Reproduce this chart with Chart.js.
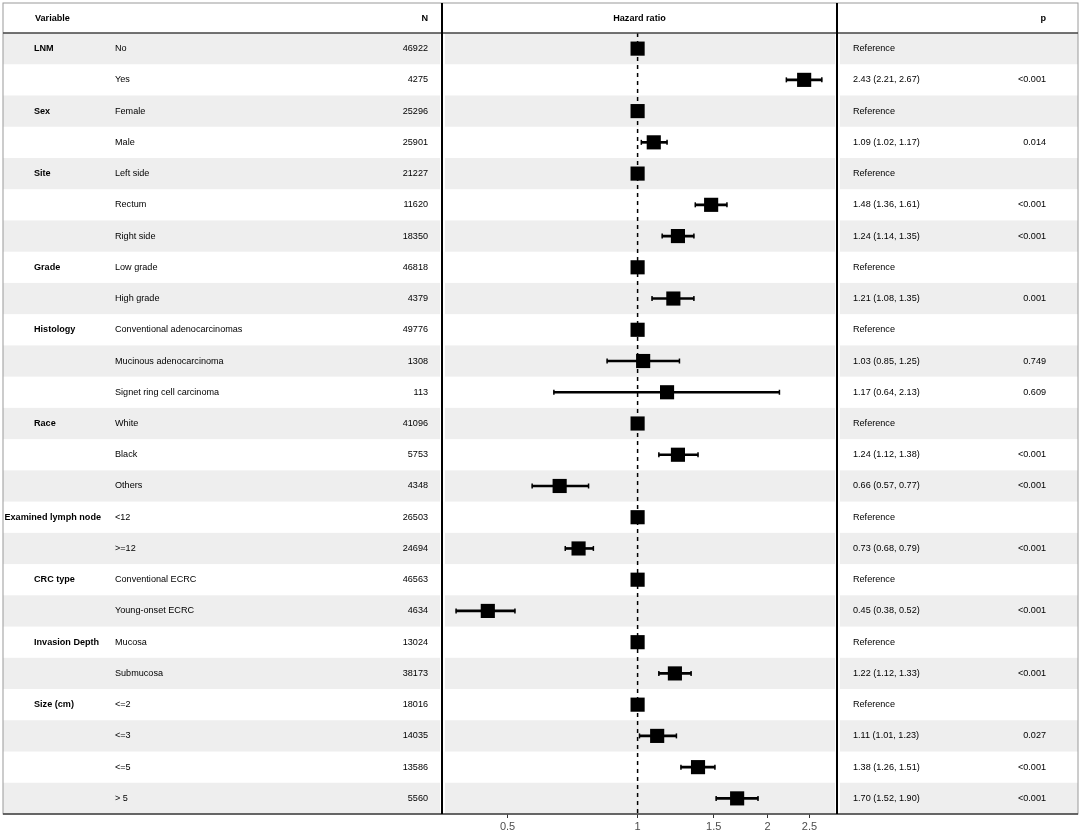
<!DOCTYPE html>
<html>
<head>
<meta charset="utf-8">
<title>Hazard ratio forest plot</title>
<script src="https://cdn.jsdelivr.net/npm/chart.js@4.4.1/dist/chart.umd.min.js"></script>
<style>
  html, body { margin: 0; padding: 0; background: #fff; }
  canvas { display: block; }
</style>
</head>
<body>
<canvas id="forestChart" width="1081" height="834"></canvas>
<script>
const variables = ['LNM', '', 'Sex', '', 'Site', '', '', 'Grade', '', 'Histology', '', '', 'Race', '', '',
  'Examined lymph node', '', 'CRC type', '', 'Invasion Depth', '', 'Size (cm)', '', '', ''];
const levels = ['No', 'Yes', 'Female', 'Male', 'Left side', 'Rectum', 'Right side', 'Low grade', 'High grade',
  'Conventional adenocarcinomas', 'Mucinous adenocarcinoma', 'Signet ring cell carcinoma', 'White', 'Black',
  'Others', '<12', '>=12', 'Conventional ECRC', 'Young-onset ECRC', 'Mucosa', 'Submucosa', '<=2', '<=3', '<=5', '> 5'];
const counts = [46922, 4275, 25296, 25901, 21227, 11620, 18350, 46818, 4379, 49776, 1308, 113, 41096, 5753,
  4348, 26503, 24694, 46563, 4634, 13024, 38173, 18016, 14035, 13586, 5560];
const hazardRatios = [1, 2.43, 1, 1.09, 1, 1.48, 1.24, 1, 1.21, 1, 1.03, 1.17, 1, 1.24, 0.66, 1, 0.73, 1, 0.45,
  1, 1.22, 1, 1.11, 1.38, 1.70];
const lowerCI = [null, 2.21, null, 1.02, null, 1.36, 1.14, null, 1.08, null, 0.85, 0.64, null, 1.12, 0.57, null,
  0.68, null, 0.38, null, 1.12, null, 1.01, 1.26, 1.52];
const upperCI = [null, 2.67, null, 1.17, null, 1.61, 1.35, null, 1.35, null, 1.25, 2.13, null, 1.38, 0.77, null,
  0.79, null, 0.52, null, 1.33, null, 1.23, 1.51, 1.90];
const pValues = ['', '<0.001', '', '0.014', '', '<0.001', '<0.001', '', '0.001', '', '0.749', '0.609', '',
  '<0.001', '<0.001', '', '<0.001', '', '<0.001', '', '<0.001', '', '0.027', '<0.001', '<0.001'];
const tickValues = [0.5, 1, 1.5, 2, 2.5];
const refValue = 1;

const fontFamily = '"Liberation Sans", Arial, Helvetica, sans-serif';
const bandColor = '#eeeeee';
const rowCount = levels.length;

function hrLabel(i) {
  if (lowerCI[i] === null) return 'Reference';
  return `${hazardRatios[i].toFixed(2)} (${lowerCI[i].toFixed(2)}, ${upperCI[i].toFixed(2)})`;
}

// table panels, row bands and text around the plot area
const tablePlugin = {
  id: 'forestTable',
  beforeDraw(chart) {
    const { ctx, chartArea, scales } = chart;
    const yScale = scales.y;
    ctx.save();
    ctx.fillStyle = '#fff';
    ctx.fillRect(0, 0, chart.width, chart.height);
    ctx.fillStyle = bandColor;
    for (let i = 0; i < rowCount; i += 2) {
      const top = yScale.getPixelForValue(i - 0.5);
      const bottom = yScale.getPixelForValue(i + 0.5);
      ctx.fillRect(3, top, chartArea.left - 5, bottom - top);
      ctx.fillRect(chartArea.left + 3, top, chartArea.right - chartArea.left - 5, bottom - top);
      ctx.fillRect(chartArea.right + 3, top, chart.width - 3 - chartArea.right - 3, bottom - top);
    }
    ctx.restore();
  },
  afterDraw(chart) {
    const { ctx, chartArea, scales } = chart;
    const yScale = scales.y;
    const headerY = chartArea.top / 2 + 1.5;
    ctx.save();
    ctx.fillStyle = '#000';
    ctx.textBaseline = 'middle';

    ctx.font = `bold 9.1px ${fontFamily}`;
    ctx.textAlign = 'left';
    ctx.fillText('Variable', 35, headerY);
    ctx.textAlign = 'right';
    ctx.fillText('N', 428, headerY);
    ctx.fillText('p', 1046, headerY);
    ctx.textAlign = 'center';
    ctx.fillText('Hazard ratio', (chartArea.left + chartArea.right) / 2, headerY);

    for (let i = 0; i < rowCount; i++) {
      const y = yScale.getPixelForValue(i);
      if (variables[i]) {
        ctx.font = `bold 9.1px ${fontFamily}`;
        ctx.textAlign = 'left';
        const w = ctx.measureText(variables[i]).width;
        ctx.fillText(variables[i], Math.min(34, 101 - w), y);
      }
      ctx.font = `9.1px ${fontFamily}`;
      ctx.textAlign = 'left';
      ctx.fillText(levels[i], 115, y);
      ctx.fillText(hrLabel(i), 853, y);
      ctx.textAlign = 'right';
      ctx.fillText(String(counts[i]), 428, y);
      ctx.fillText(pValues[i], 1046, y);
    }

    // outer frame, header rule, bottom rule, panel dividers
    ctx.strokeStyle = '#9a9a9a';
    ctx.lineWidth = 1;
    ctx.strokeRect(3, 3, chart.width - 6, chartArea.bottom - 3);
    ctx.strokeStyle = '#444';
    ctx.lineWidth = 1.5;
    ctx.beginPath();
    ctx.moveTo(3, chartArea.top);
    ctx.lineTo(chart.width - 3, chartArea.top);
    ctx.moveTo(3, chartArea.bottom);
    ctx.lineTo(chart.width - 3, chartArea.bottom);
    ctx.stroke();
    ctx.strokeStyle = '#000';
    ctx.lineWidth = 2;
    ctx.beginPath();
    ctx.moveTo(chartArea.left, 3);
    ctx.lineTo(chartArea.left, chartArea.bottom);
    ctx.moveTo(chartArea.right, 3);
    ctx.lineTo(chartArea.right, chartArea.bottom);
    ctx.stroke();
    ctx.restore();
  },
};

const rows = levels.map((_, i) => i);
const ciRows = rows.filter((i) => lowerCI[i] !== null);

const squares = rows.map((i) => ({ x: hazardRatios[i], y: i }));
const ciBars = ciRows.map((i) => ({ x: [lowerCI[i], upperCI[i]], y: i }));
const ciCaps = ciRows.flatMap((i) => [{ x: lowerCI[i], y: i }, { x: upperCI[i], y: i }]);

const ctx = document.getElementById('forestChart').getContext('2d');

new Chart(ctx, {
  type: 'bar',
  data: {
    datasets: [
      {
        type: 'scatter',
        data: squares,
        pointStyle: 'rect',
        pointRadius: 10,
        backgroundColor: '#000',
        borderColor: '#000',
        borderWidth: 0,
        order: 0,
      },
      {
        type: 'bar',
        indexAxis: 'y',
        data: ciBars,
        backgroundColor: '#000',
        borderWidth: 0,
        barThickness: 2,
        grouped: false,
        order: 1,
      },
      {
        type: 'scatter',
        data: ciCaps,
        pointStyle: 'line',
        rotation: 90,
        pointRadius: 2.5,
        borderColor: '#000',
        borderWidth: 1.5,
        order: 1,
      },
      {
        type: 'scatter',
        data: [{ x: refValue, y: -0.5 }, { x: refValue, y: rowCount - 0.5 }],
        showLine: true,
        pointRadius: 0,
        borderColor: '#000',
        borderWidth: 1.5,
        borderDash: [4, 4],
        order: 2,
      },
    ],
  },
  options: {
    indexAxis: 'y',
    responsive: false,
    animation: false,
    layout: {
      padding: { left: 442, right: 244, top: 33, bottom: 0 },
    },
    plugins: {
      legend: { display: false },
      tooltip: { enabled: false },
    },
    scales: {
      x: {
        type: 'logarithmic',
        min: 0.3525,
        max: 2.895,
        offset: false,
        afterBuildTicks: (scale) => {
          scale.ticks = tickValues.map((v) => ({ value: v }));
        },
        afterFit: (scale) => {
          scale.height = 20;
        },
        border: { display: false },
        grid: {
          offset: false,
          drawOnChartArea: false,
          drawTicks: true,
          tickLength: 4,
          tickColor: '#333',
        },
        ticks: {
          autoSkip: false,
          maxRotation: 0,
          padding: 2,
          color: '#4d4d4d',
          font: { family: fontFamily, size: 11 },
          callback: (value) => String(value),
        },
      },
      y: {
        type: 'linear',
        display: false,
        reverse: true,
        offset: false,
        grid: { offset: false },
        min: -0.5,
        max: rowCount - 0.5,
      },
    },
  },
  plugins: [tablePlugin],
});
</script>
</body>
</html>
